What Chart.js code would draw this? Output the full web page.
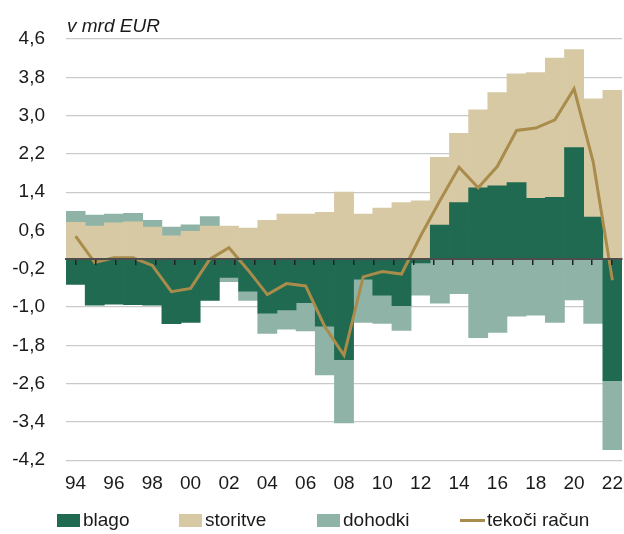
<!DOCTYPE html>
<html>
<head>
<meta charset="utf-8">
<script src="https://cdn.jsdelivr.net/npm/chart.js@4/dist/chart.umd.min.js"></script>
<style>
  body { margin: 0; background: #fff; font-family: "Liberation Sans", Arial, sans-serif; }
  #wrap { position: relative; width: 624px; height: 534px; }
  #legend { position: absolute; left: 0; top: 508px; width: 624px; height: 24px; font-size: 19px; color: #1a1a1a; }
  .item { position: absolute; top: 0; display: flex; align-items: center; height: 24px; white-space: nowrap; }
  .sw { width: 23px; height: 13px; margin-right: 3px; }
  .ln { width: 25px; height: 3px; margin-right: 2px; }
</style>
</head>
<body>
<div id="wrap">
  <canvas id="bopChart"></canvas>
  <div id="legend"></div>
</div>
<script>
const years = ['94', '95', '96', '97', '98', '99', '00', '01', '02', '03', '04', '05', '06', '07', '08',
    '09', '10', '11', '12', '13', '14', '15', '16', '17', '18', '19', '20', '21', '22'];

const blago = [-0.53, -0.96, -0.94, -0.95, -0.96, -1.35, -1.32, -0.86, -0.38, -0.67, -1.13, -1.06, -0.91, -1.40, -2.10,
    -0.42, -0.75, -0.97, -0.08, 0.71, 1.18, 1.49, 1.53, 1.60, 1.27, 1.29, 2.33, 0.88, -2.54];
const storitve = [0.77, 0.69, 0.76, 0.78, 0.67, 0.49, 0.58, 0.69, 0.69, 0.65, 0.81, 0.94, 0.94, 0.98, 1.40,
    0.94, 1.07, 1.18, 1.22, 1.42, 1.45, 1.63, 1.95, 2.27, 2.63, 2.91, 2.05, 2.47, 3.53];
const dohodki = [0.23, 0.23, 0.18, 0.18, 0.14, 0.18, 0.14, 0.20, -0.09, -0.19, -0.42, -0.40, -0.59, -1.02, -1.32,
    -0.90, -0.59, -0.52, -0.67, -0.92, -0.72, -1.64, -1.53, -1.19, -1.17, -1.32, -0.85, -1.34, -1.44];
const tekociRacun = [0.48, -0.07, 0.03, 0.03, -0.13, -0.68, -0.61, 0.00, 0.24, -0.23, -0.74, -0.51, -0.56, -1.41, -2.01,
    -0.37, -0.26, -0.31, 0.49, 1.22, 1.92, 1.49, 1.94, 2.69, 2.74, 2.91, 3.56, 2.03, -0.44];

const yTicks = [-4.2, -3.4, -2.6, -1.8, -1.0, -0.2, 0.6, 1.4, 2.2, 3.0, 3.8, 4.6];
const unitLabel = 'v mrd EUR';

const fontFamily = '"Liberation Sans", Arial, sans-serif';
const fontSize = 19;

// unit text above the plot, left aligned with the plot area
const unitPlugin = {
    id: 'unitLabel',
    afterDraw(chart) {
        const ctx = chart.ctx;
        ctx.save();
        ctx.font = 'italic ' + fontSize + 'px ' + fontFamily;
        ctx.fillStyle = '#1a1a1a';
        ctx.textBaseline = 'alphabetic';
        ctx.fillText(unitLabel, chart.chartArea.left + 1, chart.chartArea.top - 7);
        ctx.restore();
    }
};

const barDefaults = {
    type: 'bar',
    barPercentage: 1.0,
    categoryPercentage: 1.0,
    borderWidth: 0,
    order: 1
};

const chart = new Chart(document.getElementById('bopChart'), {
    data: {
        labels: years,
        datasets: [
            Object.assign({}, barDefaults, { label: 'blago', data: blago, backgroundColor: '#1f6a50' }),
            Object.assign({}, barDefaults, { label: 'storitve', data: storitve, backgroundColor: '#d8c9a5' }),
            Object.assign({}, barDefaults, { label: 'dohodki', data: dohodki, backgroundColor: '#8fb4a7' }),
            {
                type: 'line',
                label: 'tekoči račun',
                data: tekociRacun,
                borderColor: '#a98c4b',
                backgroundColor: '#a98c4b',
                borderWidth: 3,
                pointRadius: 0,
                tension: 0,
                order: 0
            }
        ]
    },
    options: {
        responsive: true,
        maintainAspectRatio: false,
        animation: false,
        layout: { padding: { top: 39, right: 2, bottom: 27, left: 0 } },
        scales: {
            x: {
                stacked: true,
                border: { display: false },
                grid: { display: false, drawTicks: false },
                afterFit: axis => { axis.paddingLeft = 0; axis.paddingRight = 0; },
                ticks: {
                    autoSkip: false,
                    maxRotation: 0,
                    padding: 12,
                    color: '#1a1a1a',
                    font: { family: fontFamily, size: fontSize },
                    callback: (v, i) => (i % 2 === 0 ? years[i] : '')
                }
            },
            // zero line with small tick marks, drawn over the bars
            x2: {
                type: 'category',
                position: { y: 0 },
                border: { display: true, color: '#4d4d4d', width: 2, z: 1 },
                grid: { offset: true, drawOnChartArea: false, drawTicks: true, tickLength: 5, color: '#222', lineWidth: 1.5, z: 1 },
                ticks: { display: false }
            },
            y: {
                stacked: true,
                min: -4.2,
                max: 4.6,
                afterBuildTicks: axis => { axis.ticks = yTicks.map(v => ({ value: v })); },
                afterFit: axis => { axis.width = 66; },
                border: { display: false },
                grid: { color: '#c9c9c9', lineWidth: 1.2, drawTicks: false },
                ticks: {
                    padding: 21,
                    color: '#1a1a1a',
                    font: { family: fontFamily, size: fontSize },
                    callback: v => v.toFixed(1).replace('.', ',')
                }
            }
        },
        plugins: {
            legend: { display: false },
            tooltip: { enabled: false }
        }
    },
    plugins: [unitPlugin]
});

// legend row under the chart, colours taken from the datasets
const legendLeft = [57, 179, 317, 460];
const legendBox = document.getElementById('legend');
chart.data.datasets.forEach((ds, i) => {
    const item = document.createElement('div');
    item.className = 'item';
    item.style.left = legendLeft[i] + 'px';
    const mark = document.createElement('span');
    mark.className = ds.type === 'line' ? 'ln' : 'sw';
    mark.style.background = ds.type === 'line' ? ds.borderColor : ds.backgroundColor;
    const text = document.createElement('span');
    text.textContent = ds.label;
    item.appendChild(mark);
    item.appendChild(text);
    legendBox.appendChild(item);
});
</script>
</body>
</html>
